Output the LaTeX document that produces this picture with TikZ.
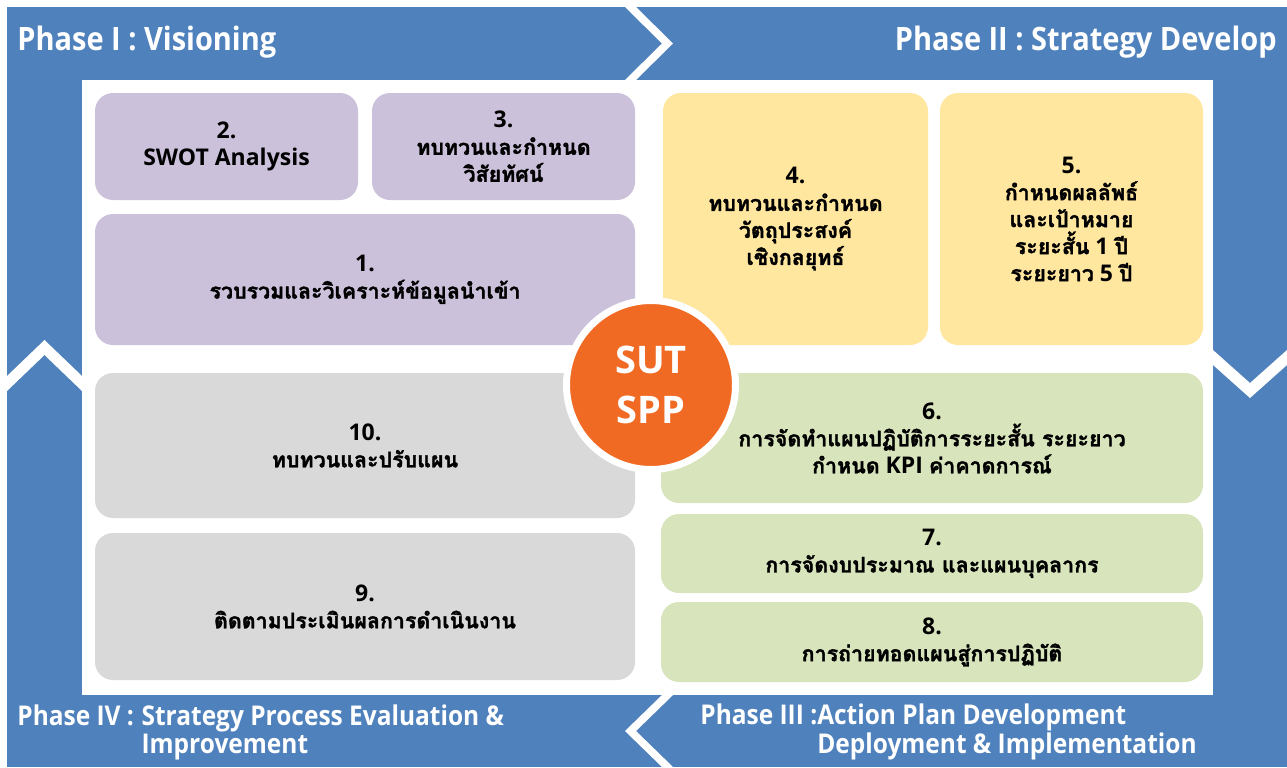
\documentclass[tikz,border=0pt]{standalone}
\usepackage{fontspec}
\setmainfont{Open Sans}
\newfontfamily\thaifont[Script=Thai,Scale=0.93,BoldFeatures={FakeBold=1.5}]{Loma}
\newfontfamily\phasefont[FakeStretch=0.9]{Open Sans}
\newcommand{\thai}[1]{{\thaifont #1}}
\definecolor{bandblue}{HTML}{4F81BD}
\definecolor{visionpurple}{HTML}{CCC1DA}
\definecolor{strategyyellow}{HTML}{FFE79F}
\definecolor{actiongreen}{HTML}{D8E4BC}
\definecolor{reviewgrey}{HTML}{D9D9D9}
\definecolor{centreorange}{HTML}{F06A24}
\tikzset{
  stepbox/.style={rectangle,rounded corners=9pt,inner sep=0pt,align=center,
    font=\bfseries\fontsize{11.5}{13.5}\selectfont},
  phase/.style={inner sep=0pt,text=white,align=left,
    font=\phasefont\bfseries\fontsize{16.1}{13.5}\selectfont},
  phasesmall/.style={phase,font=\phasefont\bfseries\fontsize{13.6}{13.5}\selectfont}
}

\begin{document}
\begin{tikzpicture}[x=0.5pt,y=-0.5pt]
\useasboundingbox (0,0) rectangle (1287,767);
% frame of the four phases
\fill[bandblue] (7,7) rectangle (1287,767);
\fill[white] (82,80) rectangle (1213,695);
\fill[white] (625,7) -- (662,43.5) -- (625,80) -- (636,80) -- (673,43.5) -- (636,7) -- cycle;
\fill[white] (1213,350) -- (1250,383) -- (1287,350) -- (1287,365) -- (1250,398) -- (1213,365) -- cycle;
\fill[white] (673,695) -- (636,731) -- (673,767) -- (662,767) -- (625,731) -- (662,695) -- cycle;
\fill[white] (7,376) -- (44.5,340) -- (82,376) -- (82,391) -- (44.5,355) -- (7,391) -- cycle;

\node (ph1) at (17,42) [phase,anchor=west] {Phase I : Visioning};
\node (ph2) at (1277,42) [phase,anchor=east] {Phase II : Strategy Develop};
\node (ph4) at (17,733) [phasesmall,anchor=west] {\begin{tabular}{@{}l@{}l@{}}Phase IV :\hspace{0.28em}\mbox{} & Strategy Process Evaluation \&\\ & Improvement\end{tabular}};
\node (ph3) at (700,733) [phasesmall,anchor=west] {\begin{tabular}{@{}l@{}l@{}}Phase III :& Action Plan Development\\ & Deployment \& Implementation\end{tabular}};

% steps
\node (s2) at (226.5,146.5) [stepbox,fill=visionpurple,minimum width=131.5pt,minimum height=53.5pt] {2.\\SWOT Analysis};
\node (s3) at (503.5,146.5) [stepbox,fill=visionpurple,minimum width=131.5pt,minimum height=53.5pt] {3.\\\thai{ทบทวนและกำหนด}\\\thai{วิสัยทัศน์}};
\node (s1) at (365,279.5) [stepbox,fill=visionpurple,minimum width=270pt,minimum height=65.5pt] {1.\\\thai{รวบรวมและวิเคราะห์ข้อมูลนำเข้า}};
\node (s4) at (795.5,219) [stepbox,fill=strategyyellow,minimum width=132.5pt,minimum height=126pt] {4.\\\thai{ทบทวนและกำหนด}\\\thai{วัตถุประสงค์}\\\thai{เชิงกลยุทธ์}};
\node (s5) at (1071.5,219) [stepbox,fill=strategyyellow,minimum width=131.5pt,minimum height=126pt] {5.\\\thai{กำหนดผลลัพธ์}\\\thai{และเป้าหมาย}\\\thai{ระยะสั้น} 1 \thai{ปี}\\\thai{ระยะยาว} 5 \thai{ปี}};
\node (s6) at (932,438) [stepbox,fill=actiongreen,minimum width=271pt,minimum height=65pt] {6.\\\thai{การจัดทำแผนปฏิบัติการระยะสั้น ระยะยาว}\\\thai{กำหนด} KPI \thai{ค่าคาดการณ์}};
\node (s7) at (932,553.5) [stepbox,fill=actiongreen,minimum width=271pt,minimum height=39.5pt] {7.\\\thai{การจัดงบประมาณ และแผนบุคลากร}};
\node (s8) at (932,642) [stepbox,fill=actiongreen,minimum width=271pt,minimum height=40pt] {8.\\\thai{การถ่ายทอดแผนสู่การปฏิบัติ}};
\node (s9) at (365,606.5) [stepbox,fill=reviewgrey,minimum width=270pt,minimum height=73.5pt] {9.\\\thai{ติดตามประเมินผลการดำเนินงาน}};
\node (s10) at (365,445.5) [stepbox,fill=reviewgrey,minimum width=270pt,minimum height=72.5pt] {10.\\\thai{ทบทวนและปรับแผน}};

\node (core) at (651,385) [circle,fill=centreorange,draw=white,line width=3.5pt,minimum size=84.5pt,inner sep=0pt,
  text=white,align=center,font=\bfseries\fontsize{19}{25}\selectfont] {SUT\\SPP};
\end{tikzpicture}
\end{document}
